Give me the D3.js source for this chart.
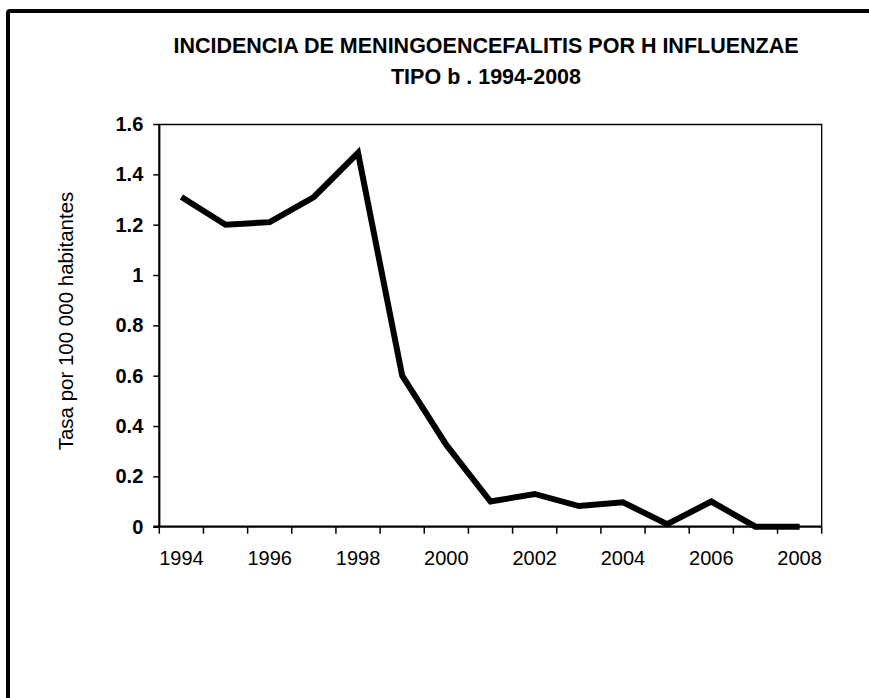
<!DOCTYPE html>
<html>
<head>
<meta charset="utf-8">
<script src="https://cdn.jsdelivr.net/npm/d3@7"></script>
<style>
  body { margin: 0; background: #fff; }
  svg { display: block; }
  text { font-family: Arial, "Liberation Sans", sans-serif; fill: #000; }
</style>
</head>
<body>
<div id="chart"></div>
<script>
// data
var years = ["1994", "1995", "1996", "1997", "1998", "1999", "2000", "2001",
             "2002", "2003", "2004", "2005", "2006", "2007", "2008"];
var rates = [1.31, 1.2, 1.21, 1.31, 1.485, 0.6, 0.325, 0.1,
             0.13, 0.082, 0.097, 0.01, 0.1, 0, 0];
var yTicks = [0, 0.2, 0.4, 0.6, 0.8, 1, 1.2, 1.4, 1.6];
var yTickLabels = ["0", "0.2", "0.4", "0.6", "0.8", "1", "1.2", "1.4", "1.6"];
var xLabelYears = ["1994", "1996", "1998", "2000", "2002", "2004", "2006", "2008"];
var titleLines = ["INCIDENCIA DE MENINGOENCEFALITIS POR H INFLUENZAE", "TIPO b . 1994-2008"];
var yTitle = "Tasa por 100 000 habitantes";

var width = 869, height = 698;
var margin = {top: 124, right: 47.3, bottom: 171.3, left: 159.3};
var innerWidth = width - margin.left - margin.right;
var innerHeight = height - margin.top - margin.bottom;

var svg = d3.select("#chart").append("svg")
  .attr("width", width)
  .attr("height", height);

// outer frame, only left and top edges are inside the picture
svg.append("path")
  .attr("d", "M8," + height + "V13Q8,11 10,11H" + width)
  .attr("fill", "none")
  .attr("stroke", "#000")
  .attr("stroke-width", 4);

// title
svg.append("g").selectAll("text")
  .data(titleLines)
  .enter().append("text")
    .attr("x", 486)
    .attr("y", function(d, i) { return 53 + i * 31; })
    .attr("text-anchor", "middle")
    .style("font-size", "21.5px")
    .style("font-weight", "bold")
    .text(function(d) { return d; });

var canvas = svg.append("g")
  .attr("transform", "translate(" + margin.left + "," + margin.top + ")");

var x = d3.scaleBand().domain(years).range([0, innerWidth]);
var y = d3.scaleLinear().domain([0, 1.6]).range([innerHeight, 0]);

// plot frame (top and right)
canvas.append("path")
  .attr("d", "M0,0.5H" + innerWidth + "V" + innerHeight)
  .attr("fill", "none")
  .attr("stroke", "#000")
  .attr("stroke-width", 1.3);

// y axis
var yAxis = canvas.append("g")
  .call(d3.axisLeft(y)
    .tickValues(yTicks)
    .tickSize(6)
    .tickPadding(10)
    .tickFormat(function(d, i) { return yTickLabels[i]; }));
yAxis.select(".domain").attr("stroke-width", 2.2).attr("d", "M0,0V" + innerHeight);
yAxis.selectAll(".tick line").attr("stroke-width", 1.5);
yAxis.selectAll("text")
  .style("font-size", "20px")
  .style("font-weight", "bold")
  .style("font-family", "Arial, 'Liberation Sans', sans-serif");

// x axis: ticks at category boundaries, labels every other year
var boundaries = years.map(function(d) { return x(d); }).concat([innerWidth]);
var xAxis = canvas.append("g")
  .attr("transform", "translate(0," + innerHeight + ")");
xAxis.append("line")
  .attr("x1", -6).attr("x2", innerWidth)
  .attr("stroke", "#000")
  .attr("stroke-width", 2.2);
xAxis.selectAll("line.tick")
  .data(boundaries)
  .enter().append("line")
    .attr("class", "tick")
    .attr("x1", function(d) { return d; })
    .attr("x2", function(d) { return d; })
    .attr("y1", 0).attr("y2", 7)
    .attr("stroke", "#000")
    .attr("stroke-width", 1.5);
xAxis.selectAll("text")
  .data(xLabelYears)
  .enter().append("text")
    .attr("x", function(d) { return x(d) + x.bandwidth() / 2; })
    .attr("y", 38)
    .attr("text-anchor", "middle")
    .style("font-size", "20px")
    .text(function(d) { return d; });

// y axis title
svg.append("text")
  .attr("transform", "translate(73,321) rotate(-90)")
  .attr("text-anchor", "middle")
  .style("font-size", "20.5px")
  .text(yTitle);

// the line
var line = d3.line()
  .x(function(d, i) { return x(years[i]) + x.bandwidth() / 2; })
  .y(function(d) { return y(d); });

canvas.append("path")
  .datum(rates)
  .attr("d", line)
  .attr("fill", "none")
  .attr("stroke", "#000")
  .attr("stroke-width", 6)
  .attr("stroke-linejoin", "miter");
</script>
</body>
</html>
